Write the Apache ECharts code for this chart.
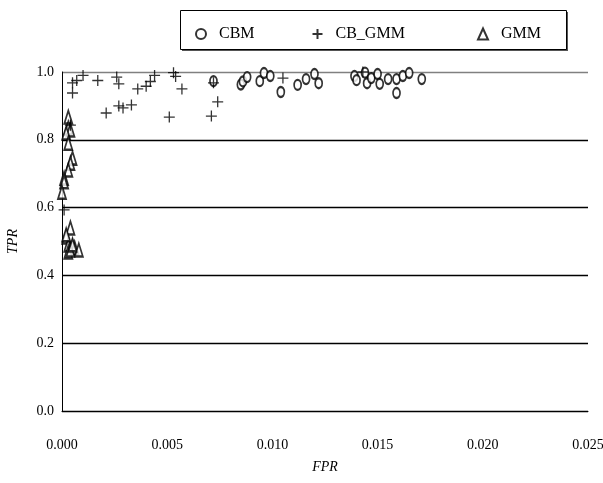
<!DOCTYPE html>
<html><head><meta charset="utf-8">
<script src="https://cdn.jsdelivr.net/npm/echarts@6/dist/echarts.min.js"></script>
<style>html,body{margin:0;padding:0;background:#fff}#c{width:603px;height:483px}</style>
</head><body><div id="c"></div>
<script>
const xTicks = [0, 0.005, 0.010, 0.015, 0.020, 0.025];
const yTicks = [0, 0.2, 0.4, 0.6, 0.8, 1.0];

const cbmFPR = [0.0072,0.0085,0.0086,0.0088,0.0094,0.0095,0.0096,0.0099,0.0104,0.0112,0.0116,0.0120,0.0122,0.0139,0.0140,0.0142,0.0143,0.0144,0.0145,0.0147,0.0150,0.0151,0.0155,0.0159,0.0159,0.0162,0.0165,0.0171];
const cbmTPR = [0.973,0.963,0.972,0.985,0.973,1.005,0.997,0.988,0.941,0.962,0.979,0.994,0.967,0.988,0.976,1.003,1.006,0.998,0.967,0.982,0.994,0.965,0.979,0.979,0.938,0.988,0.997,0.979];

const cbgFPR = [0.0001,0.0004,0.0005,0.0005,0.0007,0.0010,0.0017,0.0021,0.0026,0.0027,0.0027,0.0029,0.0033,0.0036,0.0040,0.0042,0.0044,0.0051,0.0053,0.0054,0.0057,0.0071,0.0074,0.0072,0.0105,0.0143];
const cbgTPR = [0.593,0.843,0.938,0.968,0.975,0.990,0.975,0.879,0.985,0.965,0.900,0.894,0.903,0.950,0.958,0.972,0.990,0.867,0.998,0.987,0.950,0.870,0.912,0.968,0.982,1.000];

const gmmFPR = [0.0003,0.0003,0.0004,0.0002,0.0003,0.0005,0.0004,0.0003,0.0001,0.0001,0.0000,0.0004,0.0002,0.0003,0.0005,0.0006,0.0008,0.0003,0.0004,0.0002,0.0005];
const gmmTPR = [0.867,0.835,0.829,0.820,0.790,0.746,0.731,0.711,0.687,0.676,0.645,0.540,0.513,0.490,0.484,0.481,0.475,0.469,0.475,0.520,0.490];

const zip = (a, b) => a.map((v, i) => [v, b[i]]);
const serif = '"Liberation Serif","DejaVu Serif",serif';
const plusPath = 'path://M0,5L10,5M5,0L5,10';

const chart = echarts.init(document.getElementById('c'), null, {renderer: 'canvas'});
const legendBase = {
  top: 21, itemWidth: 10, itemHeight: 11, itemGap: 0,
  textStyle: {fontFamily: serif, fontSize: 16, color: '#000', padding: [0, 0, 0, 8]},
  selectedMode: false
};
chart.setOption({
  animation: false,
  backgroundColor: '#fff',
  graphic: [
    {type: 'rect', shape: {x: 182, y: 12, width: 386, height: 39}, style: {fill: '#555'}, z: 0},
    {type: 'rect', shape: {x: 180.5, y: 10.5, width: 386, height: 39}, style: {fill: '#fff', stroke: '#000', lineWidth: 1}, z: 1}
  ],
  legend: [
    Object.assign({}, legendBase, {left: 190, data: ['CBM'], z: 5}),
    Object.assign({}, legendBase, {left: 305, data: ['CB_GMM'], z: 5}),
    Object.assign({}, legendBase, {left: 472, data: ['GMM'], z: 5})
  ],
  grid: {left: 62, right: 15, top: 72, bottom: 72, containLabel: false, outerBoundsMode: 'none'},
  xAxis: {
    type: 'value', min: xTicks[0], max: xTicks[xTicks.length - 1], interval: 0.005,
    name: 'FPR', nameLocation: 'middle', nameGap: 49,
    nameTextStyle: {fontFamily: serif, fontSize: 14, fontStyle: 'italic', color: '#000'},
    axisLine: {show: true, onZero: false, lineStyle: {color: '#000', width: 1}},
    axisTick: {show: false},
    axisLabel: {fontFamily: serif, fontSize: 14, color: '#000', margin: 27, formatter: v => v.toFixed(3)},
    splitLine: {show: false}
  },
  yAxis: {
    type: 'value', min: yTicks[0], max: yTicks[yTicks.length - 1], interval: 0.2,
    name: 'TPR', nameLocation: 'middle', nameGap: 42, nameRotate: 90,
    nameTextStyle: {fontFamily: serif, fontSize: 14, fontStyle: 'italic', color: '#000'},
    axisLine: {show: true, lineStyle: {color: '#000', width: 1}},
    axisTick: {show: false},
    axisLabel: {fontFamily: serif, fontSize: 14, color: '#000', margin: 8, formatter: v => v.toFixed(1)},
    splitLine: {show: true, lineStyle: {color: ['#000', '#000', '#000', '#000', '#000', '#808080'], width: 1.3}}
  },
  series: [
    {name: 'CBM', type: 'scatter', data: zip(cbmFPR, cbmTPR), symbol: 'emptyCircle', symbolSize: [7, 10],
     itemStyle: {color: '#000', borderColor: '#000', borderWidth: 0.9}, z: 3},
    {name: 'CB_GMM', type: 'scatter', data: zip(cbgFPR, cbgTPR), symbol: plusPath, symbolSize: [11, 11],
     itemStyle: {color: 'none', borderColor: '#000', borderWidth: 1.3}, z: 4},
    {name: 'GMM', type: 'scatter', data: zip(gmmFPR, gmmTPR), symbol: 'emptyTriangle', symbolSize: [8, 13],
     itemStyle: {color: '#000', borderColor: '#000', borderWidth: 0.9}, z: 3}
  ]
});
</script></body></html>
